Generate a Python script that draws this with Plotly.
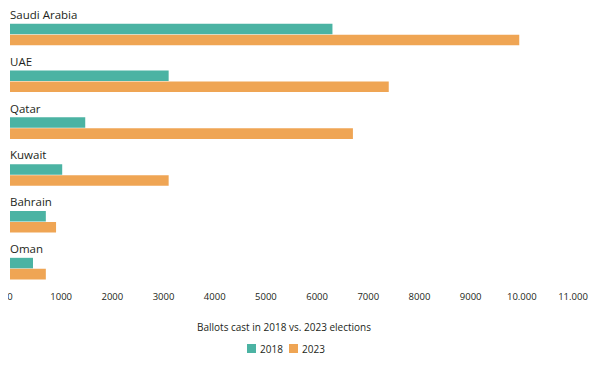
import plotly.graph_objects as go

countries = ["Saudi Arabia", "UAE", "Qatar", "Kuwait", "Bahrain", "Oman"]
ballots_2018 = [6300, 3100, 1470, 1020, 700, 450]
ballots_2023 = [9950, 7400, 6700, 3100, 900, 700]
tick_values = [0, 1000, 2000, 3000, 4000, 5000, 6000, 7000, 8000, 9000, 10000, 11000]
tick_labels = ["0", "1000", "2000", "3000", "4000", "5000", "6000", "7000", "8000", "9000", "10.000", "11.000"]
series_names = ["2018", "2023"]
series_colors = ["#4bb3a3", "#efa554"]

ypos = list(range(len(countries)))
font_family = "Open Sans, Noto Sans, sans-serif"
text_color = "#231f20"

# page body has an 8px default margin; the figure is sized/positioned to compensate
OFF = 8
W, H = 600 - OFF, 367 - OFF
L, R, T, B = 10 - OFF, 27, 11 - OFF, 82
pw, ph = W - L - R, H - T - B


def px_x(p):
    return (p - OFF - L) / pw


def px_y(p):
    return (H - B - (p - OFF)) / ph


fig = go.Figure()
for name, vals, col in zip(series_names, [ballots_2018, ballots_2023], series_colors):
    fig.add_trace(go.Bar(y=ypos, x=vals, orientation="h", name=name,
                         marker=dict(color=col, line=dict(width=0)), hoverinfo="skip",
                         showlegend=False))

for i, c in enumerate(countries):
    fig.add_annotation(x=0, y=i, text=c, xref="x", yref="y", xanchor="left", yanchor="middle",
                       yshift=20, xshift=-2, showarrow=False,
                       font=dict(family=font_family, size=11.5, color=text_color))

# x-axis title
fig.add_annotation(x=px_x(284), y=px_y(327), xref="paper", yref="paper",
                   text="Ballots cast in 2018 vs. 2023 elections",
                   showarrow=False, xanchor="center", yanchor="middle",
                   font=dict(family=font_family, size=10, color=text_color))

# legend
legend_x = [247, 289]
for name, col, lx in zip(series_names, series_colors, legend_x):
    fig.add_shape(type="rect", xref="paper", yref="paper",
                  x0=px_x(lx), x1=px_x(lx + 9), y0=px_y(353), y1=px_y(344),
                  fillcolor=col, line=dict(width=0))
    fig.add_annotation(x=px_x(lx + 11), y=px_y(348.5), xref="paper", yref="paper", text=name,
                       showarrow=False, xanchor="left", yanchor="middle",
                       font=dict(family=font_family, size=10, color=text_color))

fig.update_layout(
    width=W, height=H,
    margin=dict(l=L, r=R, t=T, b=B, autoexpand=False),
    plot_bgcolor="white", paper_bgcolor="white",
    barmode="group", bargap=0.53, bargroupgap=0.04,
    showlegend=False,
    font=dict(family=font_family, size=10, color=text_color),
)
fig.update_xaxes(range=[0, 11000], tickvals=tick_values, ticktext=tick_labels,
                 showgrid=False, zeroline=False, showline=False, ticks="", automargin=False,
                 ticklabeloverflow="allow", ticklabelstandoff=4,
                 tickfont=dict(family=font_family, size=9.5, color=text_color))
fig.update_yaxes(range=[5.35, -0.5], showticklabels=False, showgrid=False, zeroline=False,
                 showline=False, ticks="", automargin=False)

fig.write_html("out.html")
